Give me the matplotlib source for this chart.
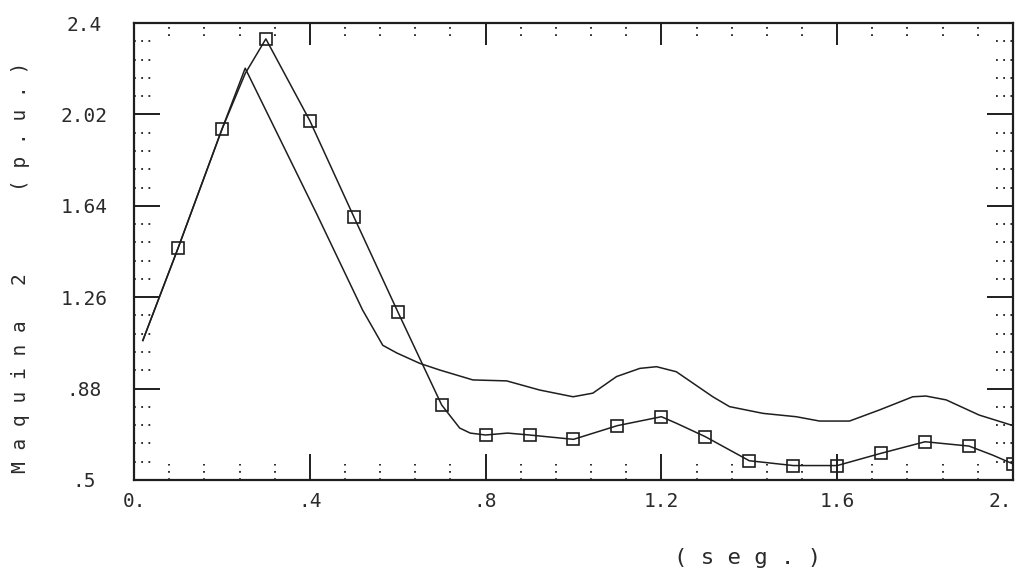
import matplotlib
matplotlib.use("Agg")
import matplotlib.pyplot as plt
import matplotlib.transforms as mtransforms
from matplotlib.ticker import FixedLocator, MultipleLocator

# ---------------- data ----------------
# square-marker series, marker samples every 0.1 s
t_marks = [0.1, 0.2, 0.3, 0.4, 0.5, 0.6, 0.7, 0.8, 0.9, 1.0,
           1.1, 1.2, 1.3, 1.4, 1.5, 1.6, 1.7, 1.8, 1.9, 2.0]
v_marks = [1.463, 1.958, 2.334, 1.994, 1.595, 1.200, 0.812, 0.687, 0.687, 0.669,
           0.726, 0.763, 0.680, 0.580, 0.560, 0.560, 0.611, 0.659, 0.641, 0.567]

# trace of the square-marker series
t_a = [0.02, 0.1, 0.2, 0.253, 0.3, 0.4, 0.5, 0.6, 0.7, 0.741, 0.765, 0.8, 0.85,
       0.9, 1.0, 1.1, 1.2, 1.234, 1.3, 1.4, 1.5, 1.6, 1.7, 1.8, 1.9, 1.953, 2.0]
v_a = [1.08, 1.463, 1.958, 2.19, 2.334, 1.994, 1.595, 1.200, 0.812, 0.716, 0.695, 0.687, 0.695,
       0.687, 0.669, 0.726, 0.763, 0.736, 0.680, 0.580, 0.560, 0.560, 0.611, 0.659, 0.641, 0.604, 0.567]

# trace of the plain series
t_b = [0.02, 0.1, 0.2, 0.253, 0.416, 0.52, 0.566, 0.598, 0.65, 0.696, 0.771, 0.848,
       0.923, 0.999, 1.044, 1.098, 1.151, 1.189, 1.234, 1.317, 1.355, 1.431, 1.507,
       1.56, 1.628, 1.696, 1.772, 1.802, 1.848, 1.923, 1.995]
v_b = [1.08, 1.463, 1.958, 2.212, 1.605, 1.207, 1.06, 1.028, 0.985, 0.957, 0.916, 0.912,
       0.874, 0.846, 0.861, 0.93, 0.964, 0.971, 0.95, 0.846, 0.805, 0.777, 0.763,
       0.745, 0.745, 0.791, 0.846, 0.849, 0.833, 0.77, 0.729]

x_ticks = [0.0, 0.4, 0.8, 1.2, 1.6, 2.0]
x_ticklabels = ["0.", ".4", ".8", "1.2", "1.6", "2."]
y_ticks = [0.5, 0.88, 1.26, 1.64, 2.02, 2.4]
y_ticklabels = [".5", ".88", "1.26", "1.64", "2.02", "2.4"]
x_label = "(seg.)"
y_label = "Maquina 2   (p.u.)"

# ---------------- style ----------------
INK = "#1e1e1e"
MONO = "DejaVu Sans Mono"

fig = plt.figure(figsize=(10.2, 5.71), dpi=100)
ax = fig.add_axes([0.1314, 0.1594, 0.8617, 0.8003])

ax.plot(t_b, v_b, color=INK, lw=1.1)
ax.plot(t_a, v_a, color=INK, lw=1.1)
ax.plot(t_marks, v_marks, ls="none", marker="s", ms=9, mfc="none",
        mec=INK, mew=1.2)

ax.set_xlim(0, 2.0)
ax.set_ylim(0.5, 2.4)

for s in ax.spines.values():
    s.set_linewidth(1.6)
    s.set_color(INK)

ax.xaxis.set_major_locator(FixedLocator(x_ticks))
ax.yaxis.set_major_locator(FixedLocator(y_ticks))
ax.set_xticklabels(x_ticklabels)
ax.set_yticklabels(y_ticklabels)
ax.xaxis.set_minor_locator(MultipleLocator(0.08))
ax.yaxis.set_minor_locator(MultipleLocator(0.076, offset=0.5))

ax.tick_params(which="major", direction="in", length=19, width=1.4,
               color=INK, top=True, right=True, labelcolor="#2a2a2a",
               labelsize=14)
ax.tick_params(axis="x", which="major", pad=9)
ax.tick_params(axis="y", which="major", pad=36)
ax.tick_params(which="minor", length=0, top=True, right=True)
for tk in ax.xaxis.get_major_ticks():
    tk.tick2line.set_markersize(16)
for lab in ax.get_xticklabels() + ax.get_yticklabels():
    lab.set_fontfamily(MONO)
for lab in ax.get_yticklabels():
    lab.set_ha("center")
# keep the last x label inside the canvas
last = ax.get_xticklabels()[-1]
last.set_transform(last.get_transform() +
                   mtransforms.ScaledTranslation(-9 / 72, 0, fig.dpi_scale_trans))

# dotted minor ticks, drawn at the locator's minor positions
dots = (0, (1, 3))
xmin = [v for v in ax.xaxis.get_minorticklocs() if 0 < v < 2.0]
ymin = [v for v in ax.yaxis.get_minorticklocs() if 0.5 < v < 2.4]
xt = ax.get_xaxis_transform()
yt = ax.get_yaxis_transform()
ax.vlines(xmin, 0, 0.034, transform=xt, colors=INK, lw=1.3, linestyles=dots)
ax.vlines(xmin, 1 - 0.028, 1, transform=xt, colors=INK, lw=1.3, linestyles=dots)
ax.hlines(ymin, 0, 0.019, transform=yt, colors=INK, lw=1.3, linestyles=dots)
ax.hlines(ymin, 1 - 0.019, 1, transform=yt, colors=INK, lw=1.3, linestyles=dots)

# axis labels (letter-spaced like the plotter font)
ax.set_xlabel(" ".join(x_label), fontfamily=MONO, fontsize=16, color="#2a2a2a",
              va="center", ha="center")
ax.xaxis.set_label_coords(0.6985, -0.171)
ax.set_ylabel(" ".join(y_label), fontfamily=MONO, fontsize=14, color="#2a2a2a",
              va="center", ha="center")
ax.yaxis.set_label_coords(-0.1286, 0.465)

fig.savefig("out.png", dpi=100)
